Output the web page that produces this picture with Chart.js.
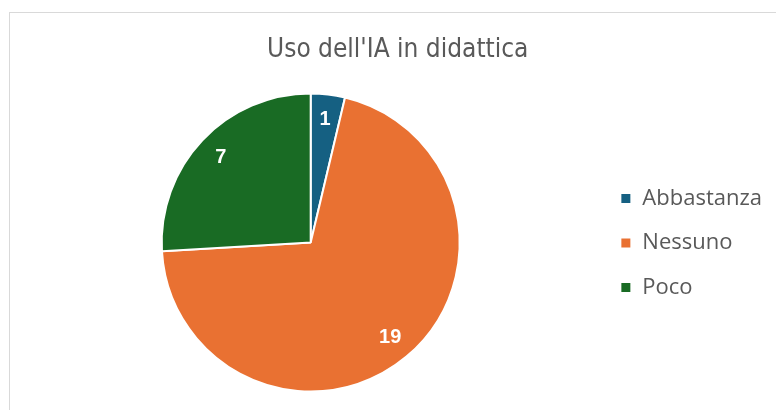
<!DOCTYPE html>
<html>
<head>
<meta charset="utf-8">
<script src="https://cdn.jsdelivr.net/npm/chart.js@4.4.0/dist/chart.umd.min.js"></script>
<style>
  html, body { margin: 0; padding: 0; background: #ffffff; }
  #wrap { position: relative; width: 776px; height: 410px; }
  canvas { display: block; }
</style>
</head>
<body>
<div id="wrap"><canvas id="c" width="776" height="410"></canvas></div>
<script>
const chartTitle = "Uso dell'IA in didattica";
const categories = ["Abbastanza", "Nessuno", "Poco"];
const counts = [1, 19, 7];
const sliceColors = ["#156082", "#E97132", "#196B24"];

const frameBorder = {
  id: 'frameBorder',
  beforeDraw(chart) {
    const ctx = chart.ctx;
    ctx.save();
    ctx.strokeStyle = '#d9d9d9';
    ctx.lineWidth = 1;
    ctx.strokeRect(9.5, 12.5, 900, 600);
    ctx.restore();
  }
};

const sliceLabels = {
  id: 'sliceLabels',
  afterDatasetsDraw(chart) {
    const ctx = chart.ctx;
    const meta = chart.getDatasetMeta(0);
    ctx.save();
    ctx.fillStyle = '#ffffff';
    ctx.font = 'bold 20px "Liberation Sans", Arial, sans-serif';
    ctx.textAlign = 'center';
    ctx.textBaseline = 'middle';
    meta.data.forEach((arc, i) => {
      const p = arc.getProps(['x', 'y', 'startAngle', 'endAngle', 'outerRadius']);
      const mid = (p.startAngle + p.endAngle) / 2;
      const r = p.outerRadius * 0.83;
      ctx.fillText(String(chart.data.datasets[0].data[i]), p.x + Math.cos(mid) * r, p.y + Math.sin(mid) * r);
    });
    ctx.restore();
  }
};

new Chart(document.getElementById('c'), {
  type: 'pie',
  data: {
    labels: categories,
    datasets: [{
      data: counts,
      backgroundColor: sliceColors,
      borderColor: '#ffffff',
      borderWidth: 2
    }]
  },
  options: {
    responsive: false,
    animation: false,
    layout: { padding: { left: 23.5, right: 4, top: 0, bottom: 17.5 } },
    plugins: {
      title: {
        display: true,
        text: chartTitle,
        color: '#595959',
        font: { family: '"Liberation Sans Narrow", "DejaVu Sans Condensed", sans-serif', size: 26, weight: 'normal' },
        padding: { top: 34.2, bottom: 27.1 }
      },
      legend: {
        display: true,
        position: 'right',
        align: 'center',
        title: { display: true, text: '', padding: { top: 79, bottom: 0 } },
        labels: {
          color: '#595959',
          boxWidth: 11,
          boxHeight: 11,
          padding: 22.5,
          font: { family: '"Open Sans", "Liberation Sans", sans-serif', size: 22 }
        }
      },
      tooltip: { enabled: false }
    }
  },
  plugins: [frameBorder, sliceLabels]
});
</script>
</body>
</html>
